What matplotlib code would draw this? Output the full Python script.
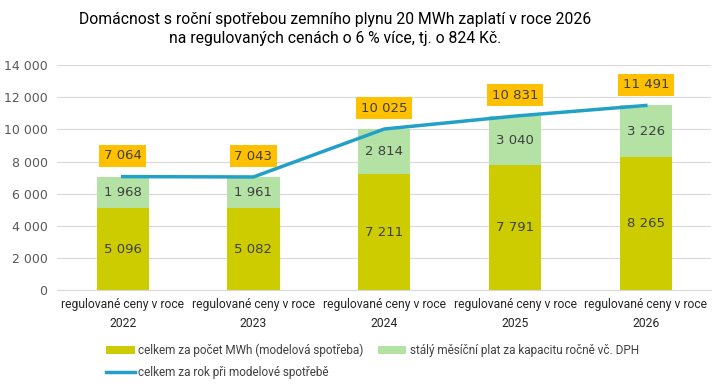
import numpy as np
import matplotlib.pyplot as plt
from matplotlib import font_manager

# data
categories = ['regulované ceny v roce\n2022', 'regulované ceny v roce\n2023',
              'regulované ceny v roce\n2024', 'regulované ceny v roce\n2025',
              'regulované ceny v roce\n2026']
energy = [5096, 5082, 7211, 7791, 8265]
capacity = [1968, 1961, 2814, 3040, 3226]
total = [7064, 7043, 10025, 10831, 11491]

names = {f.name for f in font_manager.fontManager.ttflist}
narrow = 'Liberation Sans Narrow' if 'Liberation Sans Narrow' in names else 'Roboto'

def fmt(v):
    return f'{v:,}'.replace(',', '\u00a0')

c_energy = '#CCCC00'
c_cap = '#B3E2A4'
c_line = '#23A0C8'
c_box = '#FFC000'

fig = plt.figure(figsize=(7.25, 3.9), dpi=100)
ax = fig.add_axes([0.079, 0.256, 0.902, 0.577])

x = np.arange(len(categories))
w = 0.40
b1 = ax.bar(x, energy, w, color=c_energy, label='celkem za počet MWh (modelová spotřeba)', zorder=2)
b2 = ax.bar(x, capacity, w, bottom=energy, color=c_cap,
            label='stálý měsíční plat za kapacitu ročně vč. DPH', zorder=2)
ln, = ax.plot(x, total, color=c_line, lw=2.5, label='celkem za rok při modelové spotřebě', zorder=3)

for i in range(len(x)):
    ax.text(x[i], energy[i] / 2, fmt(energy[i]), ha='center', va='center',
            fontsize=9.5, color='#404040', zorder=4)
    ax.text(x[i], energy[i] + capacity[i] / 2, fmt(capacity[i]), ha='center', va='center',
            fontsize=9.5, color='#404040', zorder=4)
    ax.annotate(fmt(total[i]), (x[i], total[i]), xytext=(0, 15), textcoords='offset points',
                ha='center', va='center', fontsize=9.5, color='#404040', zorder=5,
                bbox=dict(boxstyle='square,pad=0.35', fc=c_box, ec='none'))

ax.set_xlim(-0.5, 4.5)
ax.set_ylim(0, 14000)
ax.set_yticks(np.arange(0, 14001, 2000))
ax.set_yticklabels([fmt(v) for v in range(0, 14001, 2000)], fontsize=9, color='#595959')
ax.set_xticks(x)
ax.set_xticklabels(categories, fontsize=8.7, color='#262626', family=narrow, linespacing=1.55)
ax.tick_params(length=0)
ax.tick_params(axis='y', pad=7)
ax.tick_params(axis='x', pad=6)
ax.grid(axis='y', color='#D9D9D9', lw=0.8, zorder=0)
for s in ['top', 'right', 'left']:
    ax.spines[s].set_visible(False)
ax.spines['bottom'].set_color('#D9D9D9')

fig.text(0.462, 0.97, 'Domácnost s roční spotřebou zemního plynu 20 MWh zaplatí v roce 2026\n'
         'na regulovaných cenách o 6 % více, tj. o 824 Kč.',
         ha='center', va='top', fontsize=11.3, family=narrow, color='#000000', linespacing=1.4)

fig.legend([b1, ln, b2], [b1.get_label(), ln.get_label(), b2.get_label()],
           ncol=2, loc='upper left', bbox_to_anchor=(0.14, 0.13), frameon=False,
           prop={'family': narrow, 'size': 8.5}, handlelength=2.4,
           handletextpad=0.3, columnspacing=1.2, labelspacing=0.75, borderaxespad=0)
for t in fig.legends[0].get_texts():
    t.set_color('#404040')

fig.savefig('out.png', dpi=100)
